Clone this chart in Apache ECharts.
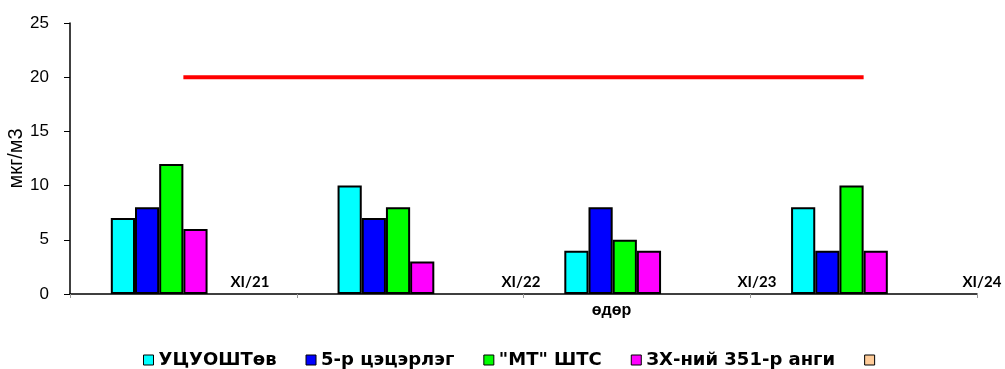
<!DOCTYPE html>
<html>
<head>
<meta charset="utf-8">
<script src="https://cdn.jsdelivr.net/npm/echarts@6/dist/echarts.min.js"></script>
<style>
  html, body { margin: 0; padding: 0; background: #fff; }
  #chart { width: 1005px; height: 369px; }
</style>
</head>
<body>
<div id="chart"></div>
<script>
// Daily concentrations by monitoring station
const days = ['XI/21', 'XI/22', 'XI/23', 'XI/24'];
const stationNames = ['УЦУОШТөв', '5-р цэцэрлэг', '"МТ" ШТС', 'ЗХ-ний 351-р анги', ' '];
const ucuoshtov = [7, 10, 4, 8];
const kindergarten5 = [8, 7, 8, 4];
const mtShts = [12, 8, 5, 10];
const zkh351 = [6, 3, 4, 4];
const extraStation = [null, null, null, null];
const spareSlot = [null, null, null, null];
const normLevel = [20, 20, 20, 20];
const yTicks = { min: 0, max: 25, interval: 5 };

const stationColors = ['#00FFFF', '#0000FF', '#00FF00', '#FF00FF', '#FFCC99'];
const stationData = [ucuoshtov, kindergarten5, mtShts, zkh351, extraStation];
const font = '"Liberation Sans", Arial, sans-serif';

const chart = echarts.init(document.getElementById('chart'));

const barSeries = stationData.map((d, i) => ({
  name: stationNames[i],
  type: 'bar',
  data: d,
  barGap: '0%',
  barCategoryGap: '36%',
  itemStyle: { color: stationColors[i], borderColor: '#000', borderWidth: 2 },
  emphasis: { disabled: true },
  z: 3
}));
// empty sixth slot keeps the bar groups left of each category centre
barSeries.push({
  name: 'spare',
  type: 'bar',
  data: spareSlot,
  barGap: '0%',
  barCategoryGap: '36%',
  itemStyle: { color: 'transparent' }
});

chart.setOption({
  animation: false,
  grid: { left: 70, right: 28, top: 23, bottom: 75, containLabel: false, outerBoundsMode: 'none' },
  legend: {
    data: stationNames.map((n, i) => ({ name: n, itemStyle: { color: stationColors[i], borderColor: '#000', borderWidth: 1 } })),
    top: 346,
    left: 138,
    icon: 'rect',
    itemWidth: 10,
    itemHeight: 10,
    itemGap: 29,
    textStyle: { fontFamily: '"DejaVu Sans", sans-serif', fontWeight: 'bold', fontSize: 18, color: '#000' },
    selectedMode: false
  },
  xAxis: {
    type: 'category',
    data: days,
    name: 'өдөр',
    nameLocation: 'middle',
    nameGap: 9,
    nameMoveOverlap: false,
    nameTextStyle: { fontFamily: font, fontWeight: 'bold', fontSize: 16, color: '#000', padding: [0, 0, 0, 176] },
    axisLine: { lineStyle: { color: '#000', width: 1.5 } },
    axisTick: { show: true, alignWithLabel: false, length: 4, lineStyle: { color: '#999' } },
    axisLabel: { show: false },
    splitLine: { show: false }
  },
  yAxis: {
    type: 'value',
    min: yTicks.min,
    max: yTicks.max,
    interval: yTicks.interval,
    name: 'мкг/м3',
    nameLocation: 'middle',
    nameGap: 44,
    nameMoveOverlap: false,
    nameRotate: 90,
    nameTextStyle: { fontFamily: font, fontSize: 20, color: '#000' },
    axisLine: { show: true, lineStyle: { color: '#000', width: 1.5 } },
    axisTick: { show: true, length: 6, lineStyle: { color: '#000' } },
    axisLabel: { fontFamily: font, fontSize: 17, color: '#000', margin: 21 },
    splitLine: { show: false }
  },
  series: barSeries.concat([{
    name: 'norm',
    type: 'line',
    data: normLevel,
    symbol: 'none',
    lineStyle: { color: '#FF0000', width: 4 },
    emphasis: { disabled: true },
    z: 4
  }])
});

// Day labels sit just left of each category boundary on the x axis
const dayLabelX = [250, 521, 757, 982];
chart.setOption({
  graphic: days.map((d, i) => ({
    type: 'text',
    x: dayLabelX[i],
    y: 282,
    style: {
      text: d,
      fontFamily: 'Lato, "Open Sans", sans-serif',
      fontWeight: 'bold',
      fontSize: 15,
      fill: '#000',
      align: 'center',
      verticalAlign: 'middle'
    }
  }))
});
</script>
</body>
</html>
